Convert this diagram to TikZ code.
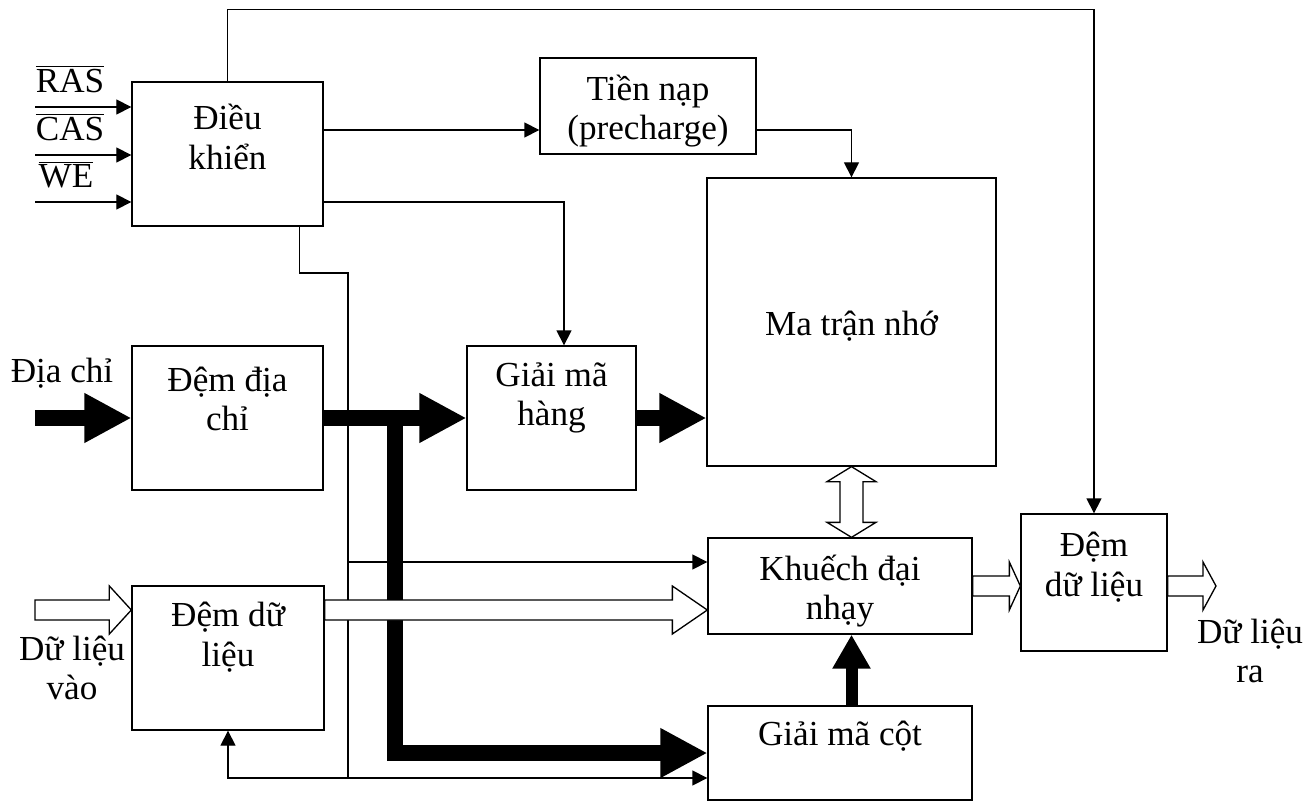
\documentclass[tikz,border=0pt]{standalone}
\usepackage{fontspec}
\setmainfont{Liberation Serif}
\usetikzlibrary{arrows.meta,calc}

\tikzset{
  blk/.style={draw, line width=0.75pt, inner sep=0pt},
  txt/.style={align=center, inner sep=0pt, font=\fontsize{20}{22.4}\selectfont},
  wire/.style={line width=0.75pt},
  sig/.style={wire, -{Triangle[length=3mm,width=3mm]}},
  bus/.style={line width=3.2mm, -{Triangle[length=9.4mm,width=9.4mm]}},
  busup/.style={line width=2.4mm, -{Triangle[length=6.8mm,width=7.2mm]}},
  hollow/.style={draw, fill=white, line width=0.75pt, line join=miter},
}

% hollow (wide) data arrow pointing right: from, to, head length
\newcommand\hollowarr[3]{%
  \draw[hollow] let \p1=(#1), \p2=(#2) in
    (\x1,{\y1+2mm}) -- ({\x2-#3},{\y1+2mm}) -- ({\x2-#3},{\y1+4.8mm})
    -- (\x2,\y1) -- ({\x2-#3},{\y1-4.8mm}) -- ({\x2-#3},{\y1-2mm})
    -- (\x1,{\y1-2mm}) -- cycle;}

\begin{document}
\begin{tikzpicture}[x=0.2mm, y=-0.2mm]
\useasboundingbox (0,0) rectangle (1316,802);

% blocks
\node[blk, minimum width=38.2mm, minimum height=28.8mm] (ctrl) at (227.5,154) {};
\node[blk, minimum width=43.2mm, minimum height=19.2mm] (pre) at (648,106) {};
\node[blk, minimum width=57.8mm, minimum height=57.6mm] (mat) at (851.5,322) {};
\node[blk, minimum width=38.2mm, minimum height=28.8mm] (dad) at (227.5,418) {};
\node[blk, minimum width=33.8mm, minimum height=28.8mm] (gmh) at (551.5,418) {};
\node[blk, minimum width=52.8mm, minimum height=19.2mm] (kdn) at (840,586) {};
\node[blk, minimum width=29.2mm, minimum height=27.4mm] (ddr) at (1094,582.5) {};
\node[blk, minimum width=38.4mm, minimum height=28.8mm] (ddl) at (228,658) {};
\node[blk, minimum width=52.8mm, minimum height=18.8mm] (gmc) at (840,753) {};

% block texts
\node[txt] (ctrl-t) at ($(ctrl)+(0,-17)$) {Điều\\khiển};
\node[txt] (pre-t) at ($(pre)+(0,5)$) {Tiền nạp\\(precharge)};
\node[txt] (mat-t) at ($(mat)+(0,4)$) {Ma trận nhớ};
\node[txt] (dad-t) at ($(dad)+(0,-19)$) {Đệm địa\\chỉ};
\node[txt] (gmh-t) at ($(gmh)+(0,-20)$) {Giải mã\\hàng};
\node[txt] (kdn-t) at ($(kdn)+(0,5)$) {Khuếch đại\\nhạy};
\node[txt] (ddr-t) at ($(ddr)+(0,-15.5)$) {Đệm\\dữ liệu};
\node[txt] (ddl-t) at ($(ddl)+(0,-21)$) {Đệm dữ\\liệu};
\node[txt] (gmc-t) at ($(gmc)+(0,-17)$) {Giải mã cột};

% outside ends
\coordinate (ras) at (35,107);
\coordinate (cas) at (35,155);
\coordinate (we) at (35,202);
\coordinate (addr) at (35,418);
\coordinate (din) at (35,610);
\coordinate (dout) at (1216,586);
\coordinate (cv) at (348,273);
\coordinate (cb) at (348,778);

\node[txt] (ras-l) at ($(ras)+(35,-28)$) {$\overline{\mbox{RAS}}$};
\node[txt] (cas-l) at ($(cas)+(35,-28)$) {$\overline{\mbox{CAS}}$};
\node[txt] (we-l) at ($(we)+(31,-27)$) {$\overline{\mbox{WE}}$};
\node[txt] (addr-l) at ($(addr)+(27,-45)$) {Địa chỉ};
\node[txt] (din-l) at ($(din)+(37,58)$) {Dữ liệu\\vào};
\node[txt] (dout-l) at ($(dout)+(34,65)$) {Dữ liệu\\ra};

% control lines
\draw[sig] (ras) -- (ras -| ctrl.west);
\draw[sig] (cas) -- (cas -| ctrl.west);
\draw[sig] (we) -- (we -| ctrl.west);
\draw[sig] ($(ctrl.east)+(0,-24)$) -- ($(pre.west)+(0,24)$);
\draw[sig] ($(pre.east)+(0,24)$) -| (mat.north);
\draw[sig] ($(ctrl.east)+(0,48)$) -| ($(gmh.north)+(12.5,0)$);
\draw[sig] (ctrl.north) -- ++(0,-72) -| (ddr.north);
\draw[wire] ($(ctrl.south)+(72,0)$) |- (cv) -- (cb);
\coordinate (k1) at ($(kdn.west)+(0,-24)$);
\draw[sig] (cv |- k1) -- (k1);
\draw[sig] (cb) -- (cb -| gmc.west);
\draw[sig] (cb) -| (ddl.south);

% address bus
\draw[bus] (addr) -- (dad.west);
\draw[bus] (dad.east) -- (gmh.west);
\coordinate (split) at ($(dad.east)!0.5!(gmh.west)$);
\draw[bus] (split) |- (gmc.west);
\draw[bus] (gmh.east) -- (gmh.east -| mat.west);
\draw[busup] (gmc.north -| mat.south) -- (kdn.south -| mat.south);

% data paths
\hollowarr{din}{ddl.west}{4.4mm}
\hollowarr{$(ddl.east)+(0,-48)$}{kdn.west}{7mm}
\hollowarr{kdn.east}{ddr.west}{2.2mm}
\hollowarr{ddr.east |- kdn.east}{dout}{2.6mm}
\draw[hollow] let \p1=(mat.south), \p2=(kdn.north) in
  (\x1,\y1) -- ({\x1+4.9mm},{\y1-3mm}) -- ({\x1+2.3mm},{\y1-3mm})
  -- ({\x1+2.3mm},{\y2+3mm}) -- ({\x1+4.9mm},{\y2+3mm}) -- (\x1,\y2)
  -- ({\x1-4.9mm},{\y2+3mm}) -- ({\x1-2.3mm},{\y2+3mm})
  -- ({\x1-2.3mm},{\y1-3mm}) -- ({\x1-4.9mm},{\y1-3mm}) -- cycle;
\end{tikzpicture}
\end{document}
